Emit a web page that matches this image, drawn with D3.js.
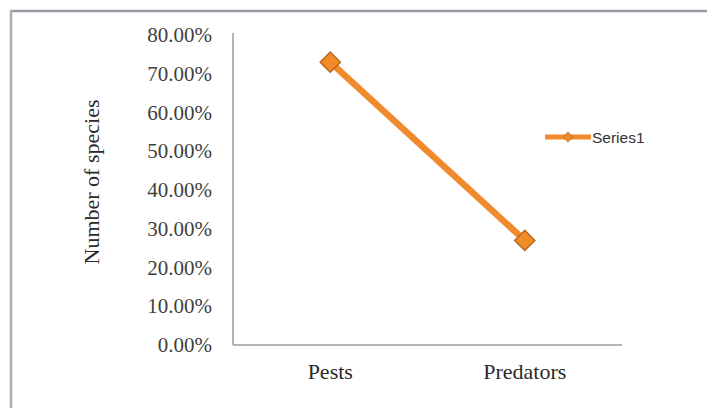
<!DOCTYPE html>
<html>
<head>
<meta charset="utf-8">
<script src="https://cdn.jsdelivr.net/npm/d3@7"></script>
<style>
  html, body { margin: 0; padding: 0; background: #ffffff; }
  svg { display: block; }
</style>
</head>
<body>
<svg id="chart" width="707" height="408"></svg>
<script>
// Share of species by group
const categories = ["Pests", "Predators"];
const seriesName = "Series1";
const seriesValues = [0.73, 0.27];
const yTicks = [0, 0.1, 0.2, 0.3, 0.4, 0.5, 0.6, 0.7, 0.8];
const yTitle = "Number of species";

const svg = d3.select("#chart");
const W = 707, H = 408;
const serif = "'Liberation Serif', 'Times New Roman', serif";

// chart frame (top and left edges)
svg.append("line").attr("x1", 10).attr("x2", W).attr("y1", 11).attr("y2", 11)
  .attr("stroke", "#959aa3").attr("stroke-width", 2.5);
svg.append("line").attr("x1", 11).attr("x2", 11).attr("y1", 10).attr("y2", H)
  .attr("stroke", "#a6abb5").attr("stroke-width", 2.5);

const plot = { left: 233, right: 622, top: 35, bottom: 345 };

const x = d3.scaleBand().domain(categories).range([plot.left, plot.right]);
const y = d3.scaleLinear().domain([0, 0.8]).range([plot.bottom, plot.top]);

// y axis labels
const yAxis = d3.axisLeft(y).tickValues(yTicks).tickFormat(d3.format(".2%")).tickSize(0).tickPadding(21);
const gy = svg.append("g").attr("transform", `translate(${plot.left},0)`).call(yAxis);
gy.select(".domain").remove();
gy.selectAll("text")
  .attr("font-family", serif)
  .attr("font-size", 21).attr("fill", "#404040");

// axis lines
svg.append("line").attr("x1", plot.left).attr("x2", plot.left).attr("y1", plot.top - 2).attr("y2", plot.bottom)
  .attr("stroke", "#9a9a9a").attr("stroke-width", 1.5);
svg.append("line").attr("x1", plot.left).attr("x2", plot.right).attr("y1", plot.bottom).attr("y2", plot.bottom)
  .attr("stroke", "#9a9a9a").attr("stroke-width", 1.5);

// x axis labels
const xAxis = d3.axisBottom(x).tickSize(0).tickPadding(18);
const gx = svg.append("g").attr("transform", `translate(0,${plot.bottom})`).call(xAxis);
gx.select(".domain").remove();
gx.selectAll("text")
  .attr("font-family", serif)
  .attr("font-size", 22).attr("fill", "#2a2a2a");

// y title
svg.append("text")
  .attr("transform", `translate(99,182) rotate(-90)`)
  .attr("text-anchor", "middle")
  .attr("font-family", serif)
  .attr("font-size", 22).attr("fill", "#2a2a2a")
  .text(yTitle);

// series line
const data = categories.map((c, i) => ({ c, v: seriesValues[i] }));
const cx = d => x(d.c) + x.bandwidth() / 2;
const line = d3.line().x(cx).y(d => y(d.v));
svg.append("path").datum(data).attr("d", line)
  .attr("fill", "none").attr("stroke", "#f08a2c").attr("stroke-width", 6.5)
  .attr("stroke-linecap", "butt");

// diamond markers
const diamond = d3.symbol().type(d3.symbolDiamond2).size(260);
svg.selectAll("path.marker").data(data).join("path")
  .attr("class", "marker")
  .attr("d", diamond)
  .attr("transform", d => `translate(${cx(d)},${y(d.v)})`)
  .attr("fill", "#f18b25").attr("stroke", "#b86a25").attr("stroke-width", 1.5);

// legend
const lg = svg.append("g").attr("transform", "translate(545,137)");
lg.append("line").attr("x1", 0).attr("x2", 46).attr("y1", 0).attr("y2", 0)
  .attr("stroke", "#f08a2c").attr("stroke-width", 5);
lg.append("path").attr("d", d3.symbol().type(d3.symbolDiamond2).size(60))
  .attr("transform", "translate(23,0)")
  .attr("fill", "#f18b25").attr("stroke", "#b86a25").attr("stroke-width", 1);
lg.append("text").attr("x", 47).attr("y", 5.5)
  .attr("font-family", "'Liberation Sans', Arial, sans-serif")
  .attr("font-size", 15.5).attr("fill", "#333")
  .text(seriesName);
</script>
</body>
</html>
